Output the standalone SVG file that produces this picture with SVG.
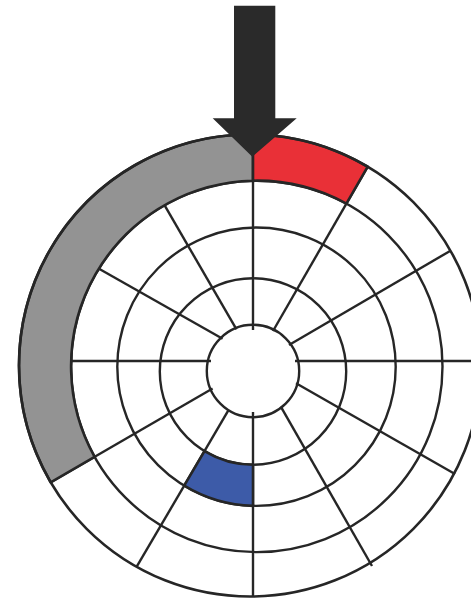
<svg xmlns="http://www.w3.org/2000/svg" width="471" height="600" viewBox="0 0 471 600">
  <style>
    .ln { fill: none; stroke: #262626; stroke-width: 2.4; stroke-linecap: butt; }
    .ring { fill: none; stroke: #262626; stroke-width: 2.4; }
    .outer { fill: none; stroke: #262626; stroke-width: 2.6; }
    .gray { fill: #939393; stroke: #262626; stroke-width: 2.6; stroke-linejoin: round; }
    .red { fill: #e93037; stroke: #262626; stroke-width: 2.6; stroke-linejoin: round; }
    .blue { fill: #3d5ba8; stroke: #262626; stroke-width: 2.6; stroke-linejoin: round; }
    .arrow { fill: #2a2a2a; }
  </style>
  <rect x="0" y="0" width="471" height="600" fill="#ffffff"/>

  <g id="disc">
    <circle cx="250" cy="365.5" r="231" fill="#ffffff"/>
  </g>

  <g id="spokes">
    <line class="ln" x1="253" y1="330" x2="253" y2="134.5"/>
    <line class="ln" x1="273" y1="331" x2="367.7" y2="166.7"/>
    <line class="ln" x1="289" y1="345" x2="450.5" y2="250.7"/>
    <line class="ln" x1="295" y1="361" x2="480" y2="361"/>
    <line class="ln" x1="296" y1="383.3" x2="455" y2="474"/>
    <line class="ln" x1="280.8" y1="406.6" x2="372" y2="566"/>
    <line class="ln" x1="253" y1="412" x2="253" y2="596.5"/>
    <line class="ln" x1="228.2" y1="410.7" x2="136.7" y2="566.7"/>
    <line class="ln" x1="212.6" y1="388.5" x2="50.7" y2="482.3"/>
    <line class="ln" x1="211" y1="361" x2="71.2" y2="361"/>
    <line class="ln" x1="222.6" y1="338.8" x2="99" y2="268.7"/>
    <line class="ln" x1="236.5" y1="329.3" x2="164.5" y2="205.2"/>
  </g>

  <g id="rings">
    <circle class="ring" cx="256.8" cy="366.4" r="185.7"/>
    <circle class="ring" cx="256.5" cy="366.7" r="139.2"/>
    <circle class="ring" cx="253" cy="371.5" r="93.2"/>
    <circle class="ring" cx="253" cy="371" r="46.2" fill="#ffffff"/>
  </g>

  <g id="gray-band">
    <path class="gray" d="M253,134.5 A231,231 0 0 0 50.7,482.3 L94.6,456.8 A185.7,185.7 0 0 1 253,180.7 Z"/>
  </g>
  <g id="red-sector">
    <path class="red" d="M253,134.5 A231,231 0 0 1 367.7,166.7 L346.4,203.7 A185.7,185.7 0 0 0 253,180.7 Z"/>
  </g>
  <g id="blue-sector">
    <path class="blue" d="M204.5,451.1 A93.2,93.2 0 0 0 253,464.7 L253,505.9 A139.2,139.2 0 0 1 184.2,485.7 Z"/>
  </g>

  <g id="outline">
    <circle class="outer" cx="250" cy="365.5" r="231"/>
  </g>

  <g id="arrow">
    <path class="arrow" d="M234,5.7 H275.3 V118.3 H296.7 L252.3,156.7 L212.7,118.3 H234 Z"/>
  </g>
</svg>
